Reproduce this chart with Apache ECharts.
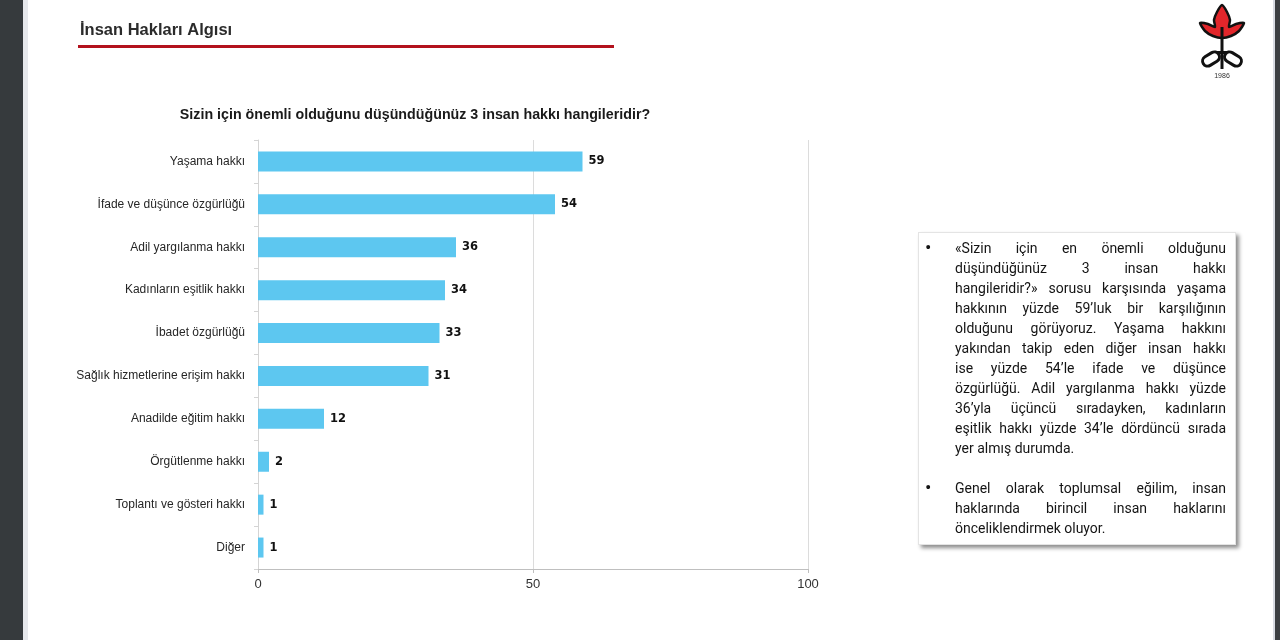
<!DOCTYPE html>
<html>
<head>
<meta charset="utf-8">
<script src="https://cdn.jsdelivr.net/npm/echarts@6/dist/echarts.min.js"></script>
<style>
  html, body { margin: 0; padding: 0; background: #fff; }
  #chart { width: 1280px; height: 640px; position: absolute; left: 0; top: 0; }
  .note {
    position: absolute;
    left: 918px; top: 232px;
    width: 318px; height: 313px;
    box-sizing: border-box;
    border: 1px solid #e4e4e4;
    box-shadow: 3px 3px 4px rgba(0, 0, 0, 0.45);
    background: #fff;
    font-family: Roboto, "Liberation Sans", sans-serif;
    font-size: 14px;
    color: #141414;
    padding-top: 5px;
  }
  .para { position: relative; margin-bottom: 20px; }
  .para .dot { position: absolute; left: 6px; top: 0; line-height: 20px; font-size: 19px; }
  .line {
    margin-left: 36px; width: 271px;
    line-height: 20px; white-space: nowrap;
    text-align: justify; text-align-last: justify;
  }
  .line.last { text-align-last: left; }
</style>
</head>
<body>
<div id="chart"></div>
<div class="note">
  <div class="para">
    <span class="dot">•</span>
    <div class="line">«Sizin için en önemli olduğunu</div>
    <div class="line">düşündüğünüz 3 insan hakkı</div>
    <div class="line">hangileridir?» sorusu karşısında yaşama</div>
    <div class="line">hakkının yüzde 59’luk bir karşılığının</div>
    <div class="line">olduğunu görüyoruz. Yaşama hakkını</div>
    <div class="line">yakından takip eden diğer insan hakkı</div>
    <div class="line">ise yüzde 54’le ifade ve düşünce</div>
    <div class="line">özgürlüğü. Adil yargılanma hakkı yüzde</div>
    <div class="line">36’yla üçüncü sıradayken, kadınların</div>
    <div class="line">eşitlik hakkı yüzde 34’le dördüncü sırada</div>
    <div class="line last">yer almış durumda.</div>
  </div>
  <div class="para">
    <span class="dot">•</span>
    <div class="line">Genel olarak toplumsal eğilim, insan</div>
    <div class="line">haklarında birincil insan haklarını</div>
    <div class="line last">önceliklendirmek oluyor.</div>
  </div>
</div>
<script>
// veriler
var categories = [
  'Yaşama hakkı',
  'İfade ve düşünce özgürlüğü',
  'Adil yargılanma hakkı',
  'Kadınların eşitlik hakkı',
  'İbadet özgürlüğü',
  'Sağlık hizmetlerine erişim hakkı',
  'Anadilde eğitim hakkı',
  'Örgütlenme hakkı',
  'Toplantı ve gösteri hakkı',
  'Diğer'
]
var values = [59, 54, 36, 34, 33, 31, 12, 2, 1, 1]
var axisMin = 0
var axisMax = 100
var axisStep = 50

var pageTitle = 'İnsan Hakları Algısı'
var chartTitle = 'Sizin için önemli olduğunu düşündüğünüz 3 insan hakkı hangileridir?'

var barColor = '#5dc7f0'

var myChart = echarts.init(document.getElementById('chart'))
var option = {
  animation: false,
  backgroundColor: '#fff',
  grid: {
    left: 258,
    right: 472,
    top: 140,
    bottom: 71
  },
  xAxis: {
    type: 'value',
    min: axisMin,
    max: axisMax,
    interval: axisStep,
    axisLine: { show: true, lineStyle: { color: '#bfbfbf' } },
    axisTick: { show: true, length: 4, lineStyle: { color: '#bfbfbf' } },
    axisLabel: {
      color: '#333',
      fontSize: 13,
      margin: 9,
      fontFamily: '"Liberation Sans", sans-serif'
    },
    splitLine: { show: true, lineStyle: { color: '#dcdcdc' } }
  },
  yAxis: {
    type: 'category',
    data: categories,
    inverse: true,
    axisLine: { show: true, lineStyle: { color: '#d4d4d4' } },
    axisTick: { show: true, length: 4, lineStyle: { color: '#d4d4d4' } },
    axisLabel: {
      color: '#262626',
      fontSize: 12,
      margin: 13,
      fontFamily: '"Liberation Sans", sans-serif'
    }
  },
  series: [
    {
      type: 'bar',
      data: values,
      barWidth: 20,
      itemStyle: { color: barColor },
      label: {
        show: true,
        position: 'right',
        distance: 6,
        color: '#111',
        fontSize: 11.5,
        fontWeight: 'bold',
        fontFamily: '"DejaVu Sans", sans-serif'
      }
    }
  ],
  graphic: [
    // kenar şeritleri
    { type: 'rect', shape: { x: 0, y: 0, width: 23, height: 640 }, style: { fill: '#363a3d' } },
    { type: 'rect', shape: { x: 23, y: 0, width: 5, height: 640 }, style: { fill: '#e6e8ec' } },
    { type: 'rect', shape: { x: 1273, y: 0, width: 2, height: 640 }, style: { fill: '#d8dbe2' } },
    { type: 'rect', shape: { x: 1275, y: 0, width: 5, height: 640 }, style: { fill: '#3c3f42' } },
    // başlıklar
    {
      type: 'text',
      x: 80,
      y: 22,
      scaleX: 0.97,
      style: {
        text: pageTitle,
        fontFamily: '"Liberation Sans", sans-serif',
        fontSize: 17,
        fontWeight: 'bold',
        fill: '#2b2b2b'
      }
    },
    { type: 'rect', shape: { x: 78, y: 45, width: 536, height: 3 }, style: { fill: '#b3121d' } },
    {
      type: 'text',
      x: 415,
      y: 107,
      scaleX: 0.95,
      style: {
        text: chartTitle,
        align: 'center',
        fontFamily: '"Liberation Sans", sans-serif',
        fontSize: 15,
        fontWeight: 'bold',
        fill: '#1a1a1a'
      }
    },
    // logo
    {
      type: 'group',
      x: 1222,
      y: 0,
      children: [
        {
          type: 'polygon',
          shape: {
            points: [[0, 5], [5, 12], [8, 20], [7, 27], [14, 24], [22, 23], [17, 31], [9, 36], [0, 38],
              [-9, 36], [-17, 31], [-22, 23], [-14, 24], [-7, 27], [-8, 20], [-5, 12]],
            smooth: 0.2
          },
          style: { fill: '#e2262b', stroke: '#111', lineWidth: 2.5 }
        },
        { type: 'rect', shape: { x: -1.5, y: 27, width: 3, height: 42 }, style: { fill: '#111' } },
        {
          type: 'rect',
          shape: { x: -9, y: -5, width: 18, height: 10, r: 5 },
          x: -11, y: 59, rotation: 0.55,
          style: { fill: 'none', stroke: '#111', lineWidth: 3 }
        },
        {
          type: 'rect',
          shape: { x: -9, y: -5, width: 18, height: 10, r: 5 },
          x: 11, y: 59, rotation: -0.55,
          style: { fill: 'none', stroke: '#111', lineWidth: 3 }
        },
        { type: 'rect', shape: { x: -5, y: 51, width: 10, height: 3 }, style: { fill: '#111' } },
        {
          type: 'text',
          x: 0, y: 73,
          style: { text: '1986', fontSize: 7, fill: '#333', align: 'center', fontFamily: '"Liberation Sans", sans-serif' }
        }
      ]
    }
  ]
}
myChart.setOption(option)
</script>
</body>
</html>
